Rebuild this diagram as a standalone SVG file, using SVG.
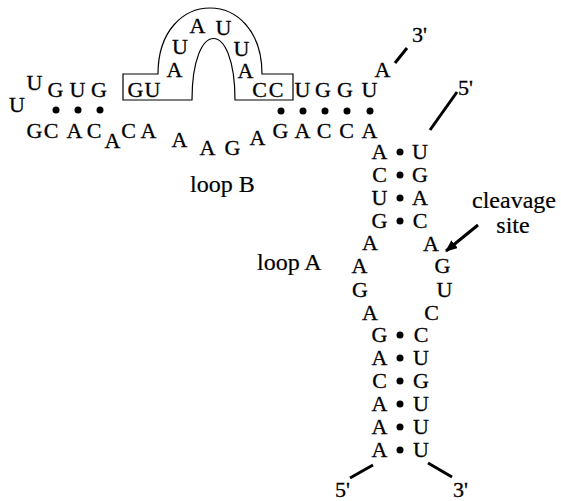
<svg xmlns="http://www.w3.org/2000/svg" width="561" height="501" viewBox="0 0 561 501" font-family="'Liberation Serif', 'Times New Roman', 'DejaVu Serif', serif">
<style>
text{font-family:"Liberation Serif","Times New Roman","DejaVu Serif",serif;font-size:22px;fill:#000;stroke:#000;stroke-width:0.3;text-anchor:middle}
.lbl{font-size:24px;stroke-width:0.2}
.st{text-anchor:start}
.dot{fill:#000}
.ln{stroke:#000;stroke-width:3;fill:none}
.box{stroke:#000;stroke-width:1.2;fill:none}
</style>
<defs>
<marker id="ah" viewBox="0 0 12 10" refX="11" refY="5" markerWidth="4" markerHeight="3.4" orient="auto" markerUnits="strokeWidth">
<path d="M0,0 L12,5 L0,10 Z" fill="#000"/>
</marker>
</defs>
<rect width="561" height="501" fill="#fff"/>

<g id="box">
<path class="box" d="M123,74 H158 C158,-14 262,-14 262,74 H293 V100 H235 C235,18 192,18 192,100 H123 Z"/>
</g>

<g id="hairpin-left">
<text x="34.5" y="90">U</text>
<text x="55.5" y="97">G</text>
<text x="77.5" y="97">U</text>
<text x="99" y="97">G</text>
<text x="17" y="112">U</text>
<circle class="dot" cx="56" cy="110" r="3.5"/>
<circle class="dot" cx="78" cy="110" r="3.5"/>
<circle class="dot" cx="100" cy="110" r="3.5"/>
</g>

<g id="boxed-loop">
<text x="135.5" y="97">G</text>
<text x="152.5" y="97">U</text>
<text x="174.5" y="77">A</text>
<text x="180" y="54">U</text>
<text x="197.5" y="33">A</text>
<text x="223.5" y="35">U</text>
<text x="241.5" y="56">U</text>
<text x="245.5" y="78">A</text>
<text x="259.5" y="97">C</text>
<text x="276" y="97">C</text>
</g>

<g id="upper-strand">
<text x="302.5" y="97">U</text>
<text x="323" y="97">G</text>
<text x="345" y="97">G</text>
<text x="369.5" y="97">U</text>
<text x="382.5" y="77">A</text>
<text class="st" x="412" y="42">3'</text>
<circle class="dot" cx="281" cy="111" r="3.5"/>
<circle class="dot" cx="303" cy="111" r="3.5"/>
<circle class="dot" cx="325" cy="111" r="3.5"/>
<circle class="dot" cx="347" cy="111" r="3.5"/>
<circle class="dot" cx="370" cy="111" r="3.5"/>
</g>

<g id="lower-strand">
<text x="34.5" y="138">G</text>
<text x="51" y="138">C</text>
<text x="74.5" y="138">A</text>
<text x="94" y="138">C</text>
<text x="112.5" y="148">A</text>
<text x="128.5" y="138">C</text>
<text x="148.5" y="138">A</text>
<text x="179.5" y="147">A</text>
<text x="207.5" y="155">A</text>
<text x="232.5" y="155">G</text>
<text x="257.5" y="145">A</text>
<text x="280.5" y="138">G</text>
<text x="302.5" y="138">A</text>
<text x="324" y="138">C</text>
<text x="346.5" y="138">C</text>
<text x="369.5" y="138">A</text>
</g>

<g id="loop-b-label">
<text class="lbl st" x="190" y="192">loop B</text>
</g>

<g id="stem-upper">
<text x="379.5" y="159">A</text><circle class="dot" cx="400" cy="152" r="3.5"/><text x="420" y="159">U</text>
<text x="379.5" y="182">C</text><circle class="dot" cx="400" cy="175" r="3.5"/><text x="420" y="182">G</text>
<text x="379.5" y="205">U</text><circle class="dot" cx="400" cy="198" r="3.5"/><text x="420" y="205">A</text>
<text x="379.5" y="228">G</text><circle class="dot" cx="400" cy="221" r="3.5"/><text x="420" y="228">C</text>
<text class="st" x="458" y="95">5'</text>
</g>

<g id="loop-a">
<text x="370" y="250">A</text>
<text x="359.5" y="273">A</text>
<text x="360" y="297">G</text>
<text x="370" y="320">A</text>
<text x="431" y="251">A</text>
<text x="442.5" y="273">G</text>
<text x="444.5" y="297">U</text>
<text x="431.5" y="320">C</text>
<text class="lbl st" x="257" y="270">loop A</text>
</g>

<g id="cleavage-label">
<text class="lbl" x="514" y="208">cleavage</text>
<text class="lbl" x="513" y="233">site</text>
</g>

<g id="stem-lower">
<text x="379.5" y="342">G</text><circle class="dot" cx="400" cy="335" r="3.5"/><text x="421" y="342">C</text>
<text x="379.5" y="365">A</text><circle class="dot" cx="400" cy="358" r="3.5"/><text x="421" y="365">U</text>
<text x="379.5" y="388">C</text><circle class="dot" cx="400" cy="381" r="3.5"/><text x="421" y="388">G</text>
<text x="379.5" y="411">A</text><circle class="dot" cx="400" cy="404" r="3.5"/><text x="421" y="411">U</text>
<text x="379.5" y="434">A</text><circle class="dot" cx="400" cy="427" r="3.5"/><text x="421" y="434">U</text>
<text x="379.5" y="457">A</text><circle class="dot" cx="400" cy="450" r="3.5"/><text x="421" y="457">U</text>
<text class="st" x="335" y="497">5'</text>
<text class="st" x="453" y="497">3'</text>
</g>

<g id="connectors">
<line class="ln" x1="395" y1="63" x2="407" y2="48"/>
<line class="ln" x1="430" y1="130" x2="457" y2="92"/>
<line class="ln" x1="373" y1="465" x2="350" y2="478"/>
<line class="ln" x1="428" y1="463" x2="452" y2="477"/>
<line class="ln" x1="478" y1="225" x2="446" y2="251" marker-end="url(#ah)"/>
</g>
</svg>
